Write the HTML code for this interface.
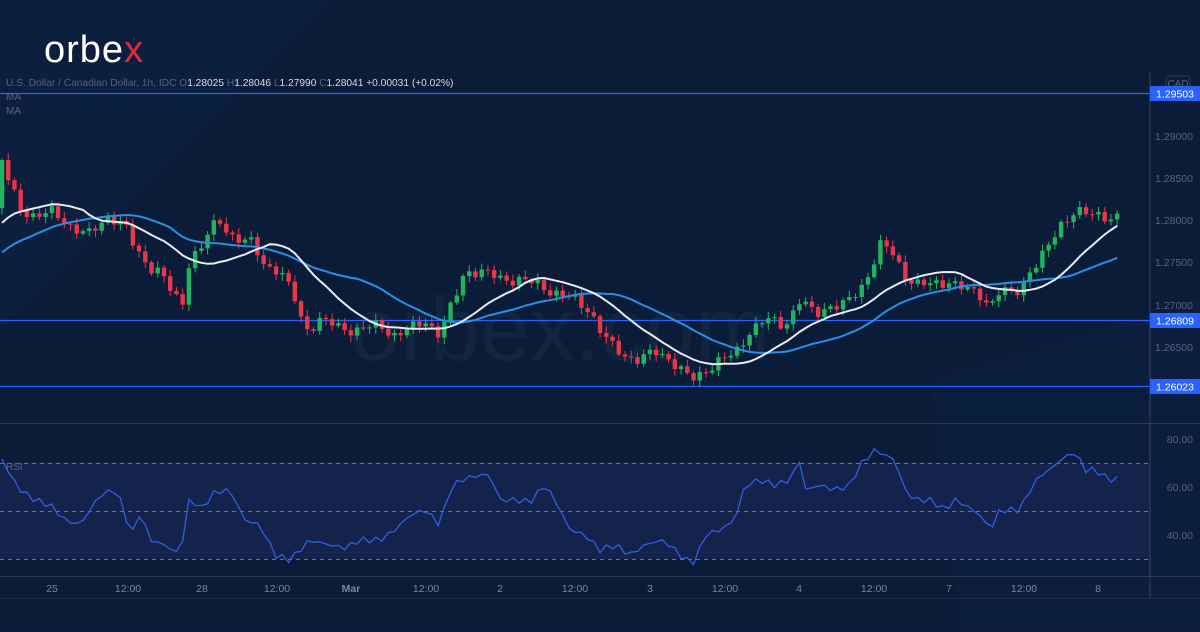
<!DOCTYPE html>
<html><head><meta charset="utf-8"><style>
html,body{margin:0;padding:0;background:#0b1d3a;}
body{width:1200px;height:627px;overflow:hidden;font-family:"Liberation Sans",sans-serif;}
</style></head><body>
<svg id="s" width="1200" height="627" xmlns="http://www.w3.org/2000/svg" font-family="Liberation Sans, sans-serif">
<rect width="1200" height="627" fill="#0a1c38"/>
<polygon points="0,0 330,0 0,330" fill="#0e2142" opacity="0.6"/>
<polygon points="930,380 1200,300 1200,627 960,627" fill="#0d2040" opacity="0.7"/>
<rect x="0" y="463" width="1150" height="96" fill="#15254f" opacity="0.85"/>
<text x="560" y="360" font-size="90" fill="#ffffff" opacity="0.035" text-anchor="middle">orbex.com</text>
<text x="44" y="62" font-size="38" fill="#ffffff" letter-spacing="1">orbe<tspan fill="#e8283c">x</tspan></text>
<text x="6" y="86" font-size="10.2" fill="#56647a">U.S. Dollar / Canadian Dollar, 1h, IDC  O<tspan fill="#d8dce4">1.28025</tspan>  H<tspan fill="#d8dce4">1.28046</tspan>  L<tspan fill="#d8dce4">1.27990</tspan>  C<tspan fill="#d8dce4">1.28041</tspan>  <tspan fill="#d8dce4">+0.00031 (+0.02%)</tspan></text>
<text x="6" y="100" font-size="10" fill="#56647a">MA</text>
<text x="6" y="114" font-size="10" fill="#56647a">MA</text>
<line x1="1150" y1="72" x2="1150" y2="598" stroke="#3a4558" stroke-width="1"/>
<line x1="0" y1="423.5" x2="1200" y2="423.5" stroke="#2e3a4e"/>
<line x1="0" y1="576.5" x2="1200" y2="576.5" stroke="#2e3a4e"/>
<line x1="0" y1="598.5" x2="1200" y2="598.5" stroke="#1c2a44"/>
<rect x="1166" y="76" width="24" height="14" rx="3" fill="none" stroke="#2e3a4e"/>
<text x="1178" y="87" font-size="10" fill="#56647a" text-anchor="middle">CAD</text>
<g font-size="10.5" fill="#56647a" text-anchor="end">
<text x="1193" y="140">1.29000</text><text x="1193" y="182">1.28500</text><text x="1193" y="224">1.28000</text>
<text x="1193" y="266">1.27500</text><text x="1193" y="309">1.27000</text><text x="1193" y="351">1.26500</text>
<text x="1193" y="443">80.00</text><text x="1193" y="491">60.00</text><text x="1193" y="539">40.00</text>
</g>
<g stroke="#6a7486" stroke-dasharray="4,4" stroke-width="1">
<line x1="0" y1="463.5" x2="1150" y2="463.5"/><line x1="0" y1="511.5" x2="1150" y2="511.5"/><line x1="0" y1="559.5" x2="1150" y2="559.5"/>
</g>
<text x="6" y="470" font-size="10" fill="#56647a">RSI</text>
<g stroke="#2962ff" stroke-width="1.3">
<line x1="0" y1="93.5" x2="1150" y2="93.5"/><line x1="0" y1="320.5" x2="1150" y2="320.5"/><line x1="0" y1="386.5" x2="1150" y2="386.5"/>
</g>
<g id="g"></g>
<g font-size="10.5" fill="#fff" text-anchor="middle">
<rect x="1150" y="86" width="50" height="15" fill="#2962ff"/><text x="1175" y="97.5">1.29503</text>
<rect x="1150" y="313" width="50" height="15" fill="#2962ff"/><text x="1175" y="324.5">1.26809</text>
<rect x="1150" y="379" width="50" height="15" fill="#2962ff"/><text x="1175" y="390.5">1.26023</text>
</g>
<g font-size="10.5" fill="#7b8598" text-anchor="middle">
<text x="52" y="592">25</text><text x="128" y="592">12:00</text><text x="202" y="592">28</text><text x="277" y="592">12:00</text>
<text x="351" y="592" font-weight="bold">Mar</text><text x="426" y="592">12:00</text><text x="500" y="592">2</text><text x="575" y="592">12:00</text>
<text x="650" y="592">3</text><text x="725" y="592">12:00</text><text x="799" y="592">4</text><text x="874" y="592">12:00</text>
<text x="949" y="592">7</text><text x="1024" y="592">12:00</text><text x="1098" y="592">8</text>
</g>
</svg>
<script>
(function(){
var W=[[2,160],[10,185],[20,210],[35,215],[50,212],[70,225],[90,235],[110,215],[125,225],[135,250],[148,265],[160,270],[170,290],[182,308],[190,255],[200,250],[210,230],[220,222],[235,238],[250,242],[265,265],[280,270],[295,300],[305,330],[320,320],[340,328],[360,330],[380,325],[395,335],[410,330],[425,320],[440,335],[450,310],[460,285],[465,270],[480,272],[500,278],[520,280],[540,285],[560,295],[575,300],[590,310],[600,330],[610,345],[625,355],[640,360],[655,352],[670,358],[685,375],[695,380],[705,370],[720,360],[735,355],[750,330],[765,320],[785,325],[800,300],[815,315],[830,305],[845,305],[860,290],[870,270],[880,245],[890,250],[905,275],[920,285],[935,285],[950,280],[965,290],[980,295],[990,305],[1000,290],[1010,295],[1020,290],[1030,270],[1040,260],[1050,245],[1060,225],[1075,210],[1085,215],[1100,215],[1122,218]];
function interp(P,x){if(x<=P[0][0])return P[0][1];for(var i=1;i<P.length;i++){if(x<=P[i][0]){var a=P[i-1],b=P[i];return a[1]+(b[1]-a[1])*(x-a[0])/(b[0]-a[0]);}}return P[P.length-1][1];}
var NS='http://www.w3.org/2000/svg',g=document.getElementById('g');
function el(t,a){var e=document.createElementNS(NS,t);for(var k in a)e.setAttribute(k,a[k]);g.appendChild(e);return e;}
var PRE=30,pre=[];for(var k=0;k<PRE;k++){pre.push(320-k*4+5*Math.sin(k*0.9));}
var closes=pre.slice(),xs=[];var n=Math.floor((1122-2)/6.23)+1;
for(var i=0;i<n;i++){var xx=2+i*6.23;xs.push(xx);closes.push(interp(W,xx)+4*Math.sin(i*2.17)+3*Math.sin(i*5.3));}
var prev=closes[PRE-1];
for(var i=0;i<n;i++){var c=closes[PRE+i],o=prev,xx=xs[i];var tp=Math.min(o,c),bt=Math.max(o,c);
var hi=tp-1.5-Math.abs(5*Math.sin(i*1.7)),lo=bt+1.5+Math.abs(5*Math.cos(i*2.3));
var col=c<o?'#22b35e':'#e8364b';
el('line',{x1:xx,y1:hi,x2:xx,y2:lo,stroke:col,'stroke-width':1});
el('rect',{x:xx-2.2,y:tp,width:4.4,height:Math.max(1,bt-tp),fill:col});prev=c;}
function ma(p,col){var pts=[];for(var i=0;i<n;i++){var s=0;for(var j=0;j<p;j++)s+=closes[PRE+i-j];pts.push(xs[i].toFixed(1)+','+(s/p).toFixed(1));}
el('polyline',{points:pts.join(' '),fill:'none',stroke:col,'stroke-width':2});}
ma(28,'#2a8fe6');ma(14,'#e8ecf2');
var R=[[0,455],[10,475],[20,490],[35,500],[50,505],[65,520],[80,525],[100,495],[115,490],[125,510],[130,540],[140,512],[150,540],[165,545],[180,555],[190,495],[200,510],[215,492],[230,490],[245,520],[260,525],[275,555],[290,560],[300,550],[310,540],[330,545],[345,548],[360,540],[380,540],[395,530],[410,515],[425,510],[440,525],[450,490],[460,480],[480,475],[490,475],[500,500],[515,500],[530,502],[545,485],[555,500],[570,530],[585,535],[600,550],[615,545],[630,555],[645,545],[660,540],[670,545],[685,560],[695,562],[705,535],[720,530],[735,520],[745,485],[760,480],[775,485],[790,480],[800,460],[805,490],[820,485],[835,490],[850,485],[860,465],[875,450],[885,455],[895,460],[905,490],[915,500],[930,500],[945,510],[955,500],[965,505],[980,515],[990,530],[1000,510],[1020,510],[1030,490],[1040,475],[1050,470],[1060,460],[1075,452],[1085,470],[1095,470],[1110,480],[1120,478]];
var rp=[];for(var i=0;i<n;i++){rp.push(xs[i].toFixed(1)+','+(interp(R,xs[i])+3*Math.sin(i*2.9)).toFixed(1));}
el('polyline',{points:rp.join(' '),fill:'none',stroke:'#2f5fe0','stroke-width':1.3});
})();
</script>
</body></html>
